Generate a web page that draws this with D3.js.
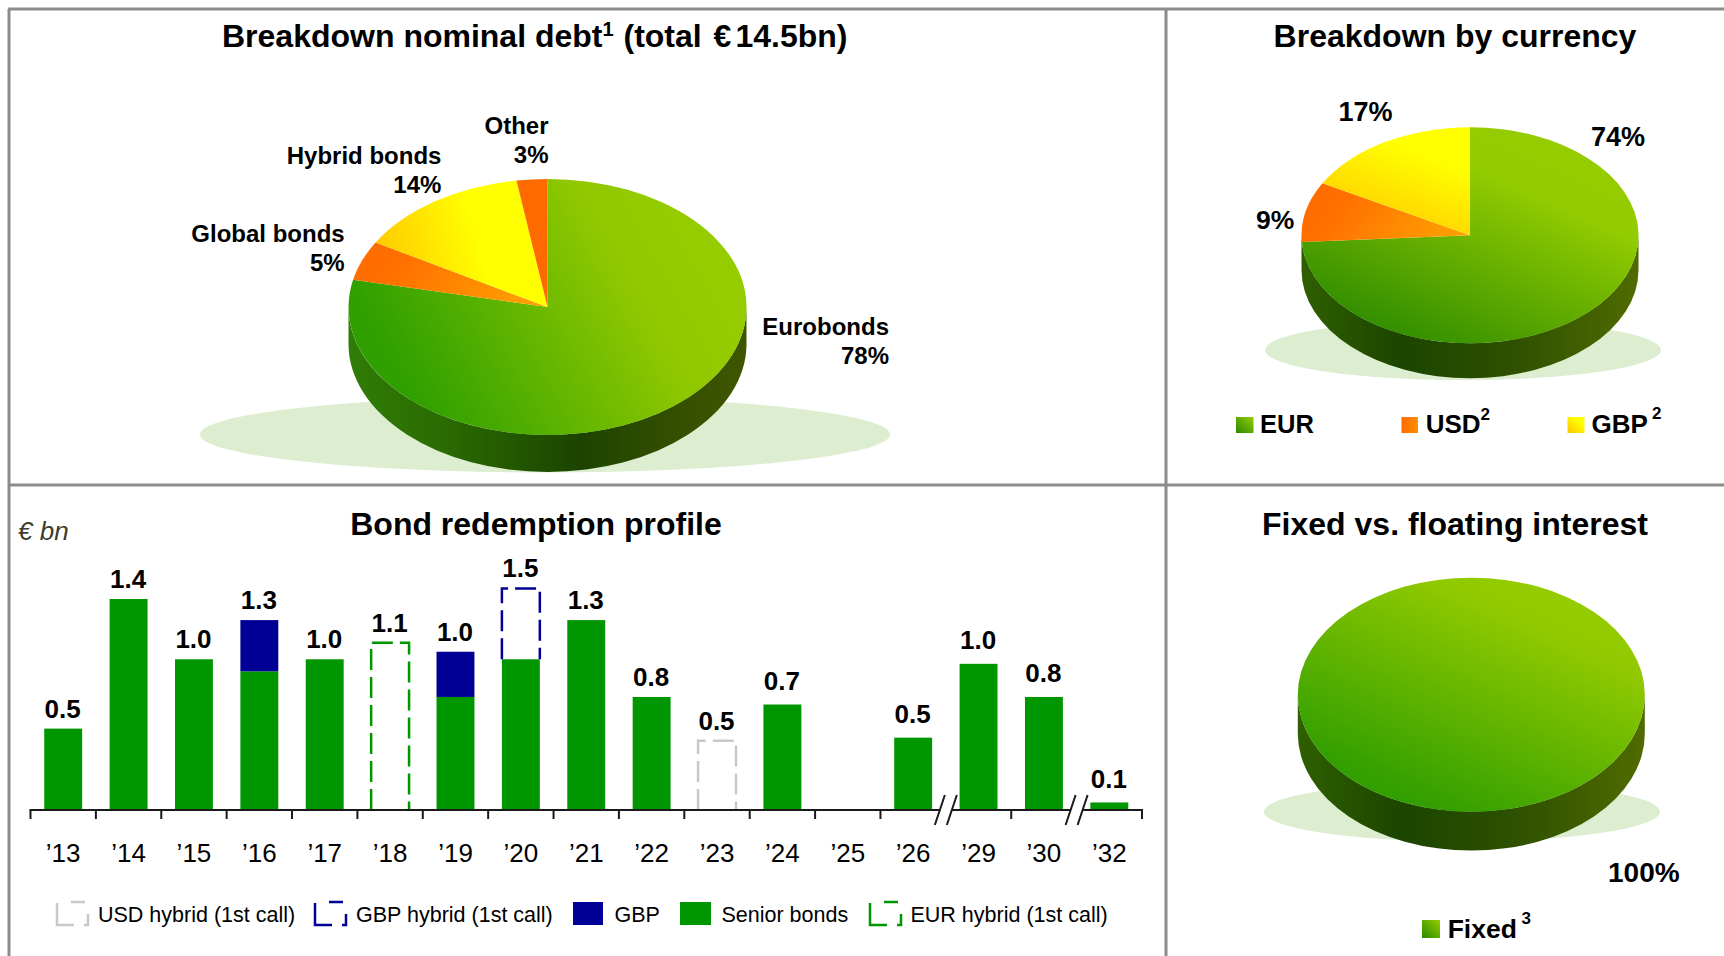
<!DOCTYPE html>
<html><head><meta charset="utf-8">
<script src="https://cdn.jsdelivr.net/npm/d3@7/dist/d3.min.js"></script>
<style>
html,body{margin:0;padding:0;background:#fff;overflow:hidden}
text{font-family:"Liberation Sans",Arial,sans-serif;fill:#000}
.b{font-weight:bold}
</style></head><body>
<svg id="c" width="1724" height="956"></svg>
<script>
// ---- data ----
const years = ["’13","’14","’15","’16","’17","’18","’19","’20","’21","’22","’23","’24","’25","’26","’29","’30","’32"];
const senior = [0.54,1.40,1.00,0.92,1.00,0,0.75,1.00,1.26,0.75,0,0.70,0,0.48,0.97,0.75,0.05];
const gbp    = [0,0,0,0.34,0,0,0.30,0,0,0,0,0,0,0,0,0,0];
const eurHybrid = [0,0,0,0,0,1.11,0,0,0,0,0,0,0,0,0,0,0];
const gbpHybrid = [0,0,0,0,0,0,0,0.47,0,0,0,0,0,0,0,0,0];
const usdHybrid = [0,0,0,0,0,0,0,0,0,0,0.46,0,0,0,0,0,0];
const totals = ["0.5","1.4","1.0","1.3","1.0","1.1","1.0","1.5","1.3","0.8","0.5","0.7","","0.5","1.0","0.8","0.1"];
const debtNames = ["Eurobonds","Global bonds","Hybrid bonds","Other"];
const debtValues = [78.4,5,14.1,2.5];
const debtLabels = ["78%","5%","14%","3%"];
const currencyNames = ["EUR","USD","GBP"];
const currencyValues = [74,9,17];
const currencyLabels = ["74%","9%","17%"];
const rateNames = ["Fixed"];
const rateValues = [100];
const rateLabels = ["100%"];

// ---- styles ----
const GREEN="#009600", BLUE="#000096", GREY="#c8c8c8", BORDER="#8c8c8c";
const svg=d3.select("#c");
const defs=svg.append("defs");
function grad(id,pts,stops){
  const g=defs.append("linearGradient").attr("id",id)
    .attr("x1",pts[0]).attr("y1",pts[1]).attr("x2",pts[2]).attr("y2",pts[3]);
  stops.forEach(s=>g.append("stop").attr("offset",s[0]).attr("stop-color",s[1]));
}
grad("gGreenA",[0.02,0.72,0.9,0.4],[[0,"#2e9f00"],[0.1,"#30a000"],[0.8,"#90c800"],[1,"#94cc00"]]);
grad("gGreenB",[0.1,0.95,0.68,0.12],[[0,"#2f8a00"],[0.1,"#348f00"],[0.85,"#92cb00"],[1,"#94cc00"]]);
grad("gGreenC",[0.12,0.92,0.72,0.05],[[0,"#2f9d00"],[0.1,"#339f00"],[0.85,"#90c900"],[1,"#94cc00"]]);
grad("gOrange",[0,0,1,0.25],[[0,"#ff6a00"],[0.3,"#ff7000"],[1,"#ff9c00"]]);
grad("gYellowA",[0,0.6,1,0.4],[[0,"#ffc800"],[0.6,"#ffff00"],[1,"#ffff00"]]);
grad("gYellowB",[0.2,1,0.7,0],[[0,"#ffc400"],[0.8,"#ffff00"],[1,"#ffff00"]]);
grad("gRedOrange",[0,0,1,0],[[0,"#ff6a00"],[1,"#ff6a00"]]);
grad("gSide1",[0,0,1,0],[[0,"#2f7d06"],[0.25,"#2a6a02"],[0.58,"#1c4400"],[0.85,"#375000"],[1,"#3f5600"]]);
grad("gSide2",[0,0,1,0],[[0,"#2f5f00"],[0.3,"#1c4500"],[0.6,"#2c4f00"],[1,"#4f6b00"]]);
grad("gSwGreen",[0,1,1,0],[[0,"#2b8a00"],[1,"#94cc00"]]);
grad("gSwOrange",[0,0,1,0],[[0,"#ff6a00"],[1,"#ff9000"]]);
grad("gSwYellow",[0,1,1,0],[[0,"#ffc400"],[0.7,"#ffff00"]]);

// ---- frame ----
[[8,9,1724,9],[9,9,9,956],[1166,9,1166,956],[9,485,1724,485]].forEach(l=>
  svg.append("line").attr("x1",l[0]).attr("y1",l[1]).attr("x2",l[2]).attr("y2",l[3])
    .attr("stroke",BORDER).attr("stroke-width",3));

function txt(x,y,s,size,opt={}){
  return svg.append("text").attr("x",x).attr("y",y).text(s).style("font-size",size+"px")
    .attr("class",opt.bold?"b":null).attr("text-anchor",opt.anchor||"start")
    .style("font-style",opt.italic?"italic":null).style("fill",opt.fill||null);
}

// ---- titles ----
const t1=svg.append("text").attr("class","b").attr("x",222).attr("y",47).style("font-size","32px");
t1.append("tspan").text("Breakdown nominal debt");
t1.append("tspan").text("1").attr("dy",-11).style("font-size","20px");
t1.append("tspan").text(" (total ").attr("dy",11).attr("dx",1);
t1.append("tspan").text("€").attr("dx",3);
t1.append("tspan").text("14.5bn)").attr("dx",4);
txt(1455,47,"Breakdown by currency",32,{bold:1,anchor:"middle"});
txt(536,535,"Bond redemption profile",32,{bold:1,anchor:"middle"});
txt(1455,535,"Fixed vs. floating interest",32,{bold:1,anchor:"middle"});
txt(18,540,"€ bn",26,{italic:1,fill:"#3c3c2c"});

// ---- pies ----
function pie3d(g){
  svg.append("ellipse").attr("cx",g.sx).attr("cy",g.sy).attr("rx",g.srx).attr("ry",g.sry).attr("fill","#dcedd0");
  const {cx,cy,rx,ry,depth}=g;
  svg.append("path").attr("fill",`url(#${g.side})`)
    .attr("d",`M${cx-rx},${cy}A${rx},${ry} 0 0 0 ${cx+rx},${cy}L${cx+rx},${cy+depth}A${rx},${ry} 0 0 1 ${cx-rx},${cy+depth}Z`);
  const arcs=d3.pie().sort(null)(g.values);
  const arc=d3.arc().innerRadius(0).outerRadius(1);
  svg.append("g").attr("transform",`translate(${cx},${cy}) scale(${rx},${ry})`)
    .selectAll("path").data(arcs).join("path").attr("d",arc).attr("fill",(d,i)=>`url(#${g.fills[i]})`);
}
pie3d({values:debtValues,fills:["gGreenA","gOrange","gYellowA","gRedOrange"],side:"gSide1",
  cx:547.5,cy:307,rx:199,ry:128,depth:37,sx:545,sy:434.5,srx:345,sry:38});
pie3d({values:currencyValues,fills:["gGreenB","gOrange","gYellowB"],side:"gSide2",
  cx:1470,cy:235.3,rx:168.5,ry:108,depth:35,sx:1463,sy:350,srx:198,sry:30});
pie3d({values:rateValues,fills:["gGreenC"],side:"gSide2",
  cx:1471.3,cy:694.7,rx:173.5,ry:117,depth:39,sx:1462,sy:811.7,srx:198,sry:29.7});

// pie labels
[[889,335,0],[344.7,241.7,1],[441.4,164,2],[548.5,134,3]].forEach(p=>{
  txt(p[0],p[1],debtNames[p[2]],24,{bold:1,anchor:"end"});
  txt(p[0],p[1]+29,debtLabels[p[2]],24,{bold:1,anchor:"end"});
});
txt(1591,146,currencyLabels[0],27,{bold:1});
txt(1256,229,currencyLabels[1],26.5,{bold:1});
txt(1338.5,121,currencyLabels[2],27,{bold:1});
txt(1608,882,rateLabels[0],28,{bold:1});

// pie legends
function sw(x,y,w,h,f){svg.append("rect").attr("x",x).attr("y",y).attr("width",w).attr("height",h).attr("fill",f);}
sw(1236,417,17.5,16,"url(#gSwGreen)"); txt(1260,433,currencyNames[0],25.5,{bold:1});
sw(1401.5,417,16.5,16,"url(#gSwOrange)"); txt(1425.7,433,currencyNames[1],26,{bold:1}); txt(1480.5,420,"2",17,{bold:1});
sw(1567.5,417,17,16,"url(#gSwYellow)"); txt(1591.5,433,currencyNames[2],26,{bold:1}); txt(1652,419,"2",17,{bold:1});
sw(1422,920,18,18,"url(#gSwGreen)"); txt(1447.7,938,rateNames[0],26.5,{bold:1}); txt(1521.5,923.5,"3",17,{bold:1});

// ---- bars ----
const x=d3.scaleBand().domain(years).range([30.5,1142]).paddingInner(0.42).paddingOuter(0.21);
const step=x.step();
const y=d3.scaleLinear().domain([0,1.4]).range([810,599]);
const rows=years.map((yr,i)=>({yr,i,senior:senior[i],gbp:gbp[i],eur:eurHybrid[i],gh:gbpHybrid[i],usd:usdHybrid[i],label:totals[i]}));
const bars=svg.append("g");
bars.selectAll("rect.s").data(rows.filter(d=>d.senior>0)).join("rect").attr("class","s")
  .attr("x",d=>x(d.yr)).attr("width",x.bandwidth()).attr("y",d=>y(d.senior)).attr("height",d=>y(0)-y(d.senior)).attr("fill",GREEN);
bars.selectAll("rect.g").data(rows.filter(d=>d.gbp>0)).join("rect").attr("class","g")
  .attr("x",d=>x(d.yr)).attr("width",x.bandwidth()).attr("y",d=>y(d.senior+d.gbp)).attr("height",d=>y(d.senior)-y(d.senior+d.gbp)).attr("fill",BLUE);
function dashed(key,color){
  bars.selectAll("path."+key).data(rows.filter(d=>d[key]>0)).join("path").attr("class",key)
    .attr("fill","none").attr("stroke",color).attr("stroke-width",2.5).attr("stroke-dasharray","21 7")
    .attr("d",d=>{const l=x(d.yr),r=l+x.bandwidth(),b=y(d.senior),t=y(d.senior+d[key]);
      return `M${l},${b}V${t}H${r}V${b}`;});
}
dashed("eur",GREEN); dashed("gh",BLUE); dashed("usd",GREY);

// value labels
const topOf=d=>d.senior+d.gbp+d.eur+d.gh+d.usd;
bars.selectAll("text").data(rows.filter(d=>d.label)).join("text").attr("class","b")
  .attr("text-anchor","middle").style("font-size","26px")
  .attr("x",d=>x(d.yr)+x.bandwidth()/2-0.5).attr("y",d=>y(topOf(d))-(d.i>=11?14.5:11)).text(d=>d.label);

// axis
const ax=svg.append("g").attr("transform","translate(0,810)").call(d3.axisBottom(x).tickSize(0).tickPadding(28));
ax.select(".domain").remove();
ax.selectAll("text").style("font-size","26px").style("font-family",'"Liberation Sans",Arial,sans-serif').style("fill","#000")
  .attr("dy",0).attr("y",52);
const edge=i=>x.range()[0]+i*step;
const breaks=[14,16];
const axG=svg.append("g").attr("stroke","#1a1a1a").attr("stroke-width",2);
d3.range(0,18).filter(i=>!breaks.includes(i)).forEach(i=>
  axG.append("line").attr("x1",edge(i)).attr("x2",edge(i)).attr("y1",810).attr("y2",819));
axG.append("line").attr("x1",edge(0)-1).attr("x2",edge(17)+1).attr("y1",810).attr("y2",810);
breaks.forEach(i=>{
  const c=edge(i);
  svg.append("rect").attr("x",c-6).attr("y",806).attr("width",12).attr("height",8).attr("fill","#fff");
  [-6,6].forEach(o=>svg.append("line").attr("x1",c+o-5).attr("x2",c+o+5).attr("y1",825).attr("y2",795)
    .attr("stroke","#1a1a1a").attr("stroke-width",2));
});

// bar legend
const legY=902, legH=23, legW=31;
function dashSw(lx,color){
  svg.append("path").attr("fill","none").attr("stroke",color).attr("stroke-width",2.5)
    .attr("stroke-dasharray","14 15 15 10 39 100")
    .attr("d",`M${lx+14},${legY}H${lx+legW}V${legY+legH}H${lx}V${legY}H${lx+14}`);
}
const legendItems=[
  ["USD hybrid (1st call)",57,98,"d",GREY],
  ["GBP hybrid (1st call)",315,356,"d",BLUE],
  ["GBP",573,614.5,"s",BLUE],
  ["Senior bonds",680,721.5,"s",GREEN],
  ["EUR hybrid (1st call)",870,910.5,"d",GREEN]];
legendItems.forEach(l=>{
  if(l[3]==="d") dashSw(l[1],l[4]); else sw(l[1],legY,l[1]===573?30:31,legH,l[4]);
  txt(l[2],922,l[0],21.5);
});
</script></body></html>
